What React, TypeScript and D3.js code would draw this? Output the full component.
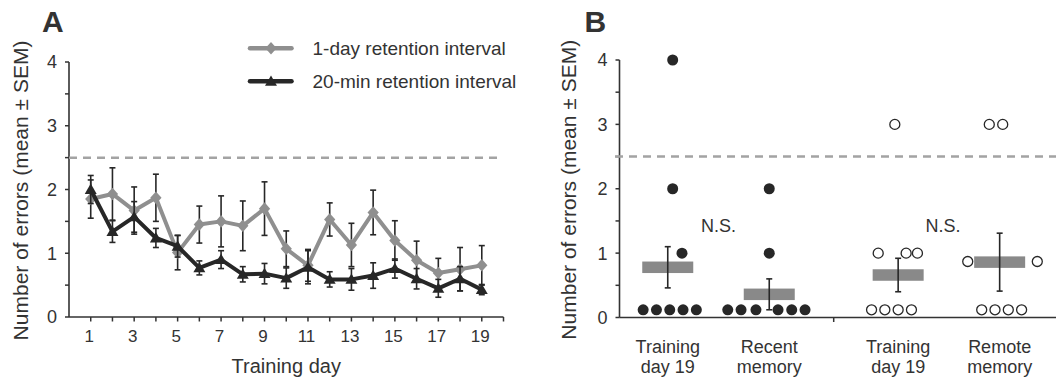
import React from "react";
import * as d3 from "d3";

// Panel A: errors per training day
const days = [1, 2, 3, 4, 5, 6, 7, 8, 9, 10, 11, 12, 13, 14, 15, 16, 17, 18, 19];
const oneDayMean = [1.85, 1.93, 1.67, 1.87, 1.01, 1.45, 1.5, 1.43, 1.7, 1.07, 0.81, 1.53, 1.13, 1.64, 1.2, 0.89, 0.69, 0.75, 0.81];
const oneDaySem = [0.3, 0.41, 0.37, 0.37, 0.27, 0.29, 0.4, 0.39, 0.42, 0.28, 0.25, 0.26, 0.34, 0.35, 0.31, 0.3, 0.23, 0.34, 0.31];
const twentyMinMean = [2.0, 1.34, 1.57, 1.24, 1.11, 0.77, 0.9, 0.67, 0.68, 0.61, 0.78, 0.59, 0.59, 0.65, 0.76, 0.6, 0.45, 0.6, 0.43];
const twentyMinSem = [0.22, 0.17, 0.24, 0.15, 0.17, 0.11, 0.14, 0.12, 0.16, 0.16, 0.26, 0.12, 0.17, 0.2, 0.15, 0.16, 0.14, 0.19, 0.08];
const dayTickLabels = [1, 3, 5, 7, 9, 11, 13, 15, 17, 19];
const chanceLevel = 2.5;

// Panel B: individual animals + mean bars
const groupLabels = [
  ["Training", "day 19"],
  ["Recent", "memory"],
  ["Training", "day 19"],
  ["Remote", "memory"],
];
const groupMean = [0.78, 0.36, 0.66, 0.86];
const groupSem = [0.32, 0.24, 0.26, 0.45];
const groupFilled = [true, true, false, false];
// individual errors, with the jitter slot each dot was drawn in
const groupValues = [
  [0, 0, 0, 0, 0, 1, 2, 4],
  [0, 0, 0, 0, 0, 0, 1, 2],
  [0, 0, 0, 0, 1, 1, 1, 3],
  [0, 0, 0, 0, 0.87, 0.87, 3, 3],
];
const groupSlots = [
  [-1.85, -0.85, 0.15, 1.15, 2.15, 1.07, 0.37, 0.37],
  [-3.12, -2.12, -1.0, 0.66, 1.69, 2.69, 0, 0],
  [-2, -1, 0, 1, -1.5, 0.6, 1.45, -0.25],
  [-1.35, -0.35, 0.65, 1.65, -2.4, 2.83, -0.78, 0.23],
];
const yTicks = [0, 1, 2, 3, 4];
const yMinorTicks = [0, 0.5, 1, 1.5, 2, 2.5, 3, 3.5, 4];

const FONT = "'Liberation Sans', Arial, sans-serif";
const INK = "#333";
const GRAY = "#8f8f8f";
const DARK = "#272727";
const DASH = "#a3a3a3";

function ErrorBar({ x, y0, y1, cap = 3 }: { x: number; y0: number; y1: number; cap?: number }) {
  return (
    <g stroke={DARK} strokeWidth={1.6}>
      <line x1={x} x2={x} y1={y0} y2={y1} />
      <line x1={x - cap} x2={x + cap} y1={y0} y2={y0} />
      <line x1={x - cap} x2={x + cap} y1={y1} y2={y1} />
    </g>
  );
}

function YAxis({ x, y, label, labelX }: { x: number; y: d3.ScaleLinear<number, number>; label: string; labelX: number }) {
  const [r0, r1] = y.range();
  return (
    <g fontFamily={FONT} fill={INK}>
      <line x1={x} x2={x} y1={r0} y2={r1} stroke={INK} strokeWidth={1.6} />
      {yMinorTicks.map((t) => (
        <line key={t} x1={x - 4} x2={x} y1={y(t)} y2={y(t)} stroke={INK} strokeWidth={1.5} />
      ))}
      {yTicks.map((t) => (
        <text key={t} x={x - 12} y={y(t)} dy="0.36em" textAnchor="end" fontSize={18}>
          {t}
        </text>
      ))}
      <text
        transform={`translate(${labelX},${(r0 + r1) / 2 + 1}) rotate(-90)`}
        textAnchor="middle"
        fontSize={21}
      >
        {label}
      </text>
    </g>
  );
}

function PanelA() {
  const x = d3.scaleLinear().domain([0, 20]).range([69, 503.5]);
  const y = d3.scaleLinear().domain([0, 4]).range([317, 62]);
  const line = d3
    .line<number>()
    .x((_, i) => x(days[i]))
    .y((d) => y(d));
  const diamond = d3.symbol(d3.symbolDiamond2, 100)()!;
  const triangle = d3.symbol(d3.symbolTriangle, 62)()!;
  const y0 = y.range()[0];

  const series = [
    { name: "1-day retention interval", mean: oneDayMean, sem: oneDaySem, color: GRAY, marker: "diamond" },
    { name: "20-min retention interval", mean: twentyMinMean, sem: twentyMinSem, color: DARK, marker: "triangle" },
  ];

  const drawMarker = (kind: string, cx: number, cy: number, color: string, key: any) =>
    kind === "diamond" ? (
      <path key={key} d={diamond} fill={color} transform={`translate(${cx},${cy}) scale(0.9,1)`} />
    ) : (
      <path key={key} d={triangle} fill={color} transform={`translate(${cx},${cy + 1})`} />
    );

  return (
    <g>
      <text x={42} y={31.5} fontFamily={FONT} fontWeight="bold" fontSize={30} fill={INK}>
        A
      </text>
      <YAxis x={69} y={y} label="Number of errors (mean ± SEM)" labelX={28} />
      {/* x axis */}
      <g fontFamily={FONT} fill={INK}>
        <line x1={69} x2={x(20)} y1={y0} y2={y0} stroke={INK} strokeWidth={1.6} />
        {[...days, 20].map((d) => (
          <line key={d} x1={x(d)} x2={x(d)} y1={y0} y2={y0 + 4.5} stroke={INK} strokeWidth={1.5} />
        ))}
        {dayTickLabels.map((d) => (
          <text key={d} x={x(d) - 1.5} y={341.5} textAnchor="middle" fontSize={17}>
            {d}
          </text>
        ))}
        <text x={(x(1) + x(19)) / 2} y={373} textAnchor="middle" fontSize={20}>
          Training day
        </text>
      </g>
      <line x1={69} x2={500} y1={y(chanceLevel)} y2={y(chanceLevel)} stroke={DASH} strokeWidth={2.5} strokeDasharray="8,6" />
      {series.map((s) => (
        <g key={s.name}>
          {s.mean.map((m, i) => (
            <ErrorBar key={i} x={x(days[i])} y0={y(m + s.sem[i])} y1={y(m - s.sem[i])} />
          ))}
          <path d={line(s.mean)!} fill="none" stroke={s.color} strokeWidth={4} strokeLinejoin="round" />
          {s.mean.map((m, i) => drawMarker(s.marker, x(days[i]), y(m), s.color, i))}
        </g>
      ))}
      {/* legend */}
      {series.map((s, i) => {
        const ly = 48.3 + i * 33;
        return (
          <g key={s.name}>
            <line x1={250} x2={291.5} y1={ly} y2={ly} stroke={s.color} strokeWidth={4.5} strokeLinecap="round" />
            {drawMarker(s.marker, 271, ly, s.color, "m")}
            <text x={312.5} y={ly + 6.5} fontFamily={FONT} fontSize={19} fill={INK}>
              {s.name}
            </text>
          </g>
        );
      })}
    </g>
  );
}

function PanelB() {
  const pairGap = 0.27;
  const pos = (i: number) => i + (i >= 2 ? pairGap : 0);
  const x = d3.scaleLinear().domain([0, 1]).range([667.75, 769.25]);
  const y = d3.scaleLinear().domain([0, 4]).range([317.5, 60]);
  const y0 = y.range()[0];
  const slotWidth = 13.3;
  const zeroLift = 0.12;
  const barW = 51;
  const barH = 11.5;

  return (
    <g>
      <text x={584.5} y={32} fontFamily={FONT} fontWeight="bold" fontSize={30} fill={INK}>
        B
      </text>
      <YAxis x={619.5} y={y} label="Number of errors (mean ± SEM)" labelX={575.5} />
      <line x1={615} x2={1056} y1={y(chanceLevel)} y2={y(chanceLevel)} stroke={DASH} strokeWidth={2.5} strokeDasharray="8,6" />
      <g fontFamily={FONT} fill={INK}>
        <line x1={619.5} x2={1056} y1={y0} y2={y0} stroke={INK} strokeWidth={1.6} />
        <line x1={x((pos(1) + pos(2)) / 2)} x2={x((pos(1) + pos(2)) / 2)} y1={y0} y2={y0 + 4.5} stroke={INK} strokeWidth={1.5} />
        {groupLabels.map((lab, i) => (
          <text key={i} x={x(pos(i))} textAnchor="middle" fontSize={18}>
            <tspan x={x(pos(i))} y={353}>
              {lab[0]}
            </tspan>
            <tspan x={x(pos(i))} y={373}>
              {lab[1]}
            </tspan>
          </text>
        ))}
        {[0, 2].map((i) => (
          <text key={i} x={x((pos(i) + pos(i + 1)) / 2) - (i === 2 ? 6 : 0)} y={y(1.33)} textAnchor="middle" fontSize={18}>
            N.S.
          </text>
        ))}
      </g>
      {groupMean.map((m, i) => {
        const cx = x(pos(i));
        return (
          <g key={i}>
            <rect x={cx - barW / 2} y={y(m) - barH / 2} width={barW} height={barH} fill="#898989" />
            <ErrorBar x={cx} y0={y(m + groupSem[i])} y1={y(m - groupSem[i])} />
            {groupValues[i].map((v, j) => (
              <circle
                key={j}
                cx={cx + groupSlots[i][j] * slotWidth}
                cy={y(v === 0 ? zeroLift : v)}
                r={groupFilled[i] ? 5.5 : 5}
                fill={groupFilled[i] ? DARK : "#fff"}
                stroke={DARK}
                strokeWidth={groupFilled[i] ? 0 : 1.3}
              />
            ))}
          </g>
        );
      })}
    </g>
  );
}

export default function App() {
  return (
    <svg
      width={1056}
      height={380}
      style={{ position: "absolute", left: 0, top: 0, background: "#fff" }}
    >
      <PanelA />
      <PanelB />
    </svg>
  );
}
